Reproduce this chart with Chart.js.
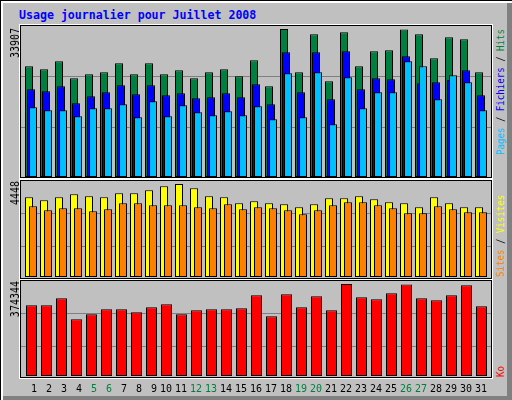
<!DOCTYPE html>
<html><head><meta charset="utf-8">
<script src="https://cdn.jsdelivr.net/npm/chart.js@4.4.1/dist/chart.umd.min.js"></script>
<style>
html,body{margin:0;padding:0;background:#fff}
#frame{position:absolute;left:0;top:0;width:512px;height:400px;background:#c0c0c0;overflow:hidden;
 box-shadow:inset 1px 1px 0 #000, inset 3px 3px 0 #fff, inset -5px -4px 0 #808080;font-family:"DejaVu Sans Mono",monospace}
.panel{position:absolute;box-sizing:border-box;border:1px solid #000;outline:1px solid #fff;left:20px;width:472px}
canvas{position:absolute}
#title{position:absolute;left:19px;top:9px;font:bold 11.6px/12px "DejaVu Sans Mono",monospace;color:#0000ff;white-space:nowrap}
.vl{position:absolute;white-space:nowrap;transform-origin:0 0}
.upend{transform:rotate(-90deg) scaleX(0.87) translateX(-100%);font-size:11.5px;line-height:11.5px;color:#000}
.up{transform:rotate(-90deg) scaleX(0.91);font-size:10px;line-height:10px;color:#000}
</style></head>
<body>
<div id="frame">
  <div id="title"></div>
  <div class="panel" style="top:25px;height:153px"></div>
  <div class="panel" style="top:180px;height:99px"></div>
  <div class="panel" style="top:280px;height:98px"></div>
  <canvas id="c1" width="470" height="151" style="left:21px;top:26px;width:470px;height:151px"></canvas>
  <canvas id="c2" width="470" height="96" style="left:21px;top:181px;width:470px;height:96px"></canvas>
  <canvas id="c3" width="470" height="119" style="left:21px;top:281px;width:470px;height:119px"></canvas>
  <div id="lmax1" class="vl upend" style="left:10px;top:28px"></div>
  <div id="lmax2" class="vl upend" style="left:10px;top:181px"></div>
  <div id="lmax3" class="vl upend" style="left:10px;top:281px"></div>
  <div id="r1" class="vl up" style="left:496px;top:155px"></div>
  <div id="r2" class="vl up" style="left:496px;top:277px"></div>
  <div id="r3" class="vl up" style="left:496px;top:377px"></div>
</div>
<script>
const title = "Usage journalier pour Juillet 2008";
const days = [1,2,3,4,5,6,7,8,9,10,11,12,13,14,15,16,17,18,19,20,21,22,23,24,25,26,27,28,29,30,31];
const hits = [25362,24675,26507,22612,23529,23987,26049,23529,26049,23529,24445,22612,23987,24675,23071,26736,20780,33907,23987,32693,21925,33151,25362,28798,29027,33820,32693,27194,32005,31547,23987];
const files = [20092,19634,20779,16885,18488,19405,21008,18947,21008,18717,19176,18030,18259,19176,18259,21238,16656,28569,19405,28569,17801,28798,20092,22612,22383,27652,21467,21696,22223,24445,18717];
const pages = [15968,15281,15281,13906,15739,15739,16656,13677,17343,13906,16426,14823,14135,15052,14135,16197,13219,23758,13677,23987,12074,22841,15739,19405,19405,26507,25361,17801,23299,21696,15281];
const visits = [3812,3669,3812,3956,3860,3812,4003,4003,4147,4338,4448,4242,3860,3812,3525,3621,3525,3477,3334,3477,3764,3764,3860,3716,3573,3525,3334,3812,3525,3334,3334];
const sites = [3382,3190,3286,3286,3142,3238,3525,3525,3429,3429,3429,3334,3286,3477,3238,3334,3286,3190,2999,3190,3429,3573,3573,3429,3286,3047,3047,3382,3238,3095,3095];
const kbytes = [287678,287678,316161,230712,251057,271402,271402,259195,279540,291747,251057,267333,271402,271402,275471,328368,242919,332437,279540,324299,267333,374344,320230,312092,336506,372500,316161,308023,328368,369058,283609];
const names1 = ["Pages","Fichiers","Hits"];
const names2 = ["Sites","Visites"];
const names3 = ["Ko"];
const COL = {hits:"#008040", files:"#0000ff", pages:"#00c0ff", visits:"#ffff00", sites:"#ff8000", kb:"#ff0000", weekend:"#008040"};

const YEAR = 2008, MONTH = 6;
const isWeekend = d => { const w = new Date(YEAR, MONTH, d).getDay(); return w === 0 || w === 6; };

// layout constants (pixels)
const AREA_LEFT = 21, AREA_W = 470, DAY1_X = 31, DAY_W = 15;

function xAxis(shift, show) {
  const min = 1 - (DAY1_X + shift - AREA_LEFT) / DAY_W;
  const s = {
    type: 'linear', axis: 'x', position: 'bottom', display: !!show, offset: false,
    min: min, max: min + AREA_W / DAY_W,
    grid: { display: false, drawTicks: false }, border: { display: false },
    ticks: { display: false },
    afterBuildTicks: sc => { sc.ticks = days.map(d => ({ value: d })); }
  };
  if (show) {
    s.ticks = {
      display: true, autoSkip: false, maxRotation: 0, minRotation: 0, padding: 7,
      font: { family: 'DejaVu Sans Mono', size: 10 },
      color: ctx => isWeekend(days[ctx.index]) ? COL.weekend : '#000000',
      callback: (v, i) => String(days[i]).padStart(2, ' ')
    };
    s.afterFit = sc => { sc.height = 24; sc.paddingLeft = 0; sc.paddingRight = 0; };
  }
  return s;
}
function yAxis(areaTop, base, maxTop, maxVal, gridRows) {
  const ppu = (base - maxTop) / maxVal;
  return {
    type: 'linear', position: 'left', display: true, min: 0, max: (base - areaTop) / ppu,
    ticks: { display: false }, grid: { color: '#808080', lineWidth: 1, drawTicks: false },
    border: { display: false },
    afterBuildTicks: s => { s.ticks = gridRows.map(r => ({ value: (base - r - 0.5) / ppu })); },
    afterFit: s => { s.width = 0; }
  };
}
function bars(label, data, color, axis, width, order) {
  return { label, data, xAxisID: axis, yAxisID: 'y', backgroundColor: color, borderColor: '#000000',
    borderWidth: 1, borderSkipped: false, barThickness: width, maxBarThickness: width, grouped: false,
    inflateAmount: 0, order, borderRadius: 0 };
}
function panel(id, datasets, scales) {
  return new Chart(document.getElementById(id), {
    type: 'bar',
    data: { labels: days, datasets },
    options: {
      responsive: false, animation: false, devicePixelRatio: 1, events: [],
      layout: { padding: 0, autoPadding: false },
      plugins: { legend: { display: false }, tooltip: { enabled: false }, title: { display: false } },
      scales
    }
  });
}

const maxHits = Math.max(...hits), maxVisits = Math.max(...visits), maxKb = Math.max(...kbytes);

panel('c1', [
  bars(names1[2], hits, COL.hits, 'xh', 8, 3),
  bars(names1[1], files, COL.files, 'xf', 8, 2),
  bars(names1[0], pages, COL.pages, 'xp', 8, 1)
], { xh: xAxis(-2), xf: xAxis(0), xp: xAxis(2), y: yAxis(26, 177, 29, maxHits, [76, 127]) });

panel('c2', [
  bars(names2[1], visits, COL.visits, 'xv', 8, 2),
  bars(names2[0], sites, COL.sites, 'xs', 8, 1)
], { xv: xAxis(-2), xs: xAxis(2), y: yAxis(181, 277, 184, maxVisits, [213, 246]) });

panel('c3', [
  bars(names3[0], kbytes, COL.kb, 'xk', 11, 1)
], { xk: xAxis(0.5), x: xAxis(0, true), y: yAxis(281, 376, 284, maxKb, [313, 346]) });

document.getElementById('title').textContent = title;
document.getElementById('lmax1').textContent = String(maxHits);
document.getElementById('lmax2').textContent = String(maxVisits);
document.getElementById('lmax3').textContent = String(maxKb);

function legend(el, parts) {
  const node = document.getElementById(el);
  parts.forEach((p, i) => {
    if (i > 0) node.appendChild(document.createTextNode(' / '));
    const s = document.createElement('span');
    s.style.color = p[1];
    s.textContent = p[0];
    node.appendChild(s);
  });
}
legend('r1', [[names1[0], COL.pages], [names1[1], COL.files], [names1[2], COL.hits]]);
legend('r2', [[names2[0], COL.sites], [names2[1], COL.visits]]);
legend('r3', [[names3[0], COL.kb]]);
</script>
</body></html>
